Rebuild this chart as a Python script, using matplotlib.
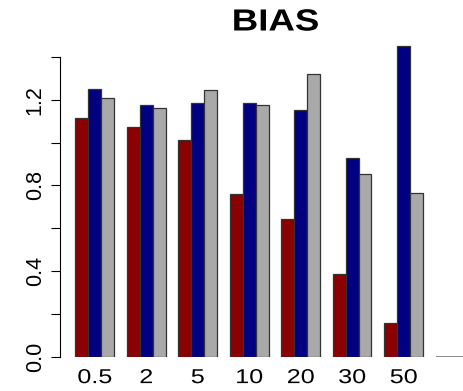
import matplotlib
matplotlib.use("Agg")
import matplotlib.pyplot as plt
import matplotlib.patheffects as pe
from matplotlib.transforms import Affine2D
import numpy as np

plt.rcParams['font.family'] = ['Liberation Sans', 'DejaVu Sans']

categories = ["0.5", "2", "5", "10", "20", "30", "50", ""]
series_red = [1.116, 1.071, 1.010, 0.759, 0.645, 0.389, 0.159, 0.0]
series_blue = [1.251, 1.175, 1.185, 1.185, 1.150, 0.926, 1.449, 0.0]
series_gray = [1.209, 1.163, 1.244, 1.175, 1.318, 0.852, 0.763, 0.0]
y_ticks = [0.0, 0.2, 0.4, 0.6, 0.8, 1.0, 1.2, 1.4]
y_labels = ["0.0", "", "0.4", "", "0.8", "", "1.2", ""]
title = "BIAS"

colors = ["#8B0000", "#000080", "#A9A9A9"]


class HStretch(pe.AbstractPathEffect):
    """Stretch text horizontally about its centre (reference output is wide)."""
    def __init__(self, sx):
        super().__init__()
        self.sx = sx

    def draw_path(self, renderer, gc, tpath, affine, rgbFace=None):
        bb = tpath.get_extents(affine)
        cx = 0.5 * (bb.x0 + bb.x1)
        aff = affine + Affine2D().translate(-cx, 0).scale(self.sx, 1).translate(cx, 0)
        renderer.draw_path(gc, tpath, aff, rgbFace)


W, H = 463, 391
fig = plt.figure(figsize=(W / 100, H / 100), dpi=100)

px_per_unit_x = 12.87
px_per_unit_y = 214.4
left_px = 59.5
zero_px = 357.0
ytop = 1.55
ax = fig.add_axes([left_px / W, (H - zero_px) / H, (W - left_px) / W, ytop * px_per_unit_y / H])
ax.set_xlim(-0.24, -0.24 + (W - left_px) / px_per_unit_x)
ax.set_ylim(0, ytop)

n = len(categories)
group_starts = 1 + 4 * np.arange(n)
series = [series_red, series_blue, series_gray]
for i, (vals, c) in enumerate(zip(series, colors)):
    for g in range(n):
        if vals[g] > 0:
            ax.bar(group_starts[g] + i, vals[g], width=1.0, align='edge', color=c,
                   edgecolor='#333333', linewidth=0.9)
        else:
            ax.bar(group_starts[g] + i, vals[g], width=1.0, align='edge', color=c,
                   edgecolor='#808080', linewidth=1.3)

ax.set_xticks(group_starts + 1.5)
ax.set_xticklabels(categories, fontsize=14.5)
ax.tick_params(axis='x', length=0, pad=8)
for t in ax.get_xticklabels():
    t.set_path_effects([HStretch(1.25)])

ax.set_yticks(y_ticks)
ax.set_yticklabels(y_labels, fontsize=15.5, rotation=90, va='center')
ax.tick_params(axis='y', length=6.2, width=0.8, pad=3.7)

for s in ['top', 'right', 'bottom']:
    ax.spines[s].set_visible(False)
ax.spines['left'].set_bounds(0, 1.4)
ax.spines['left'].set_linewidth(0.8)
ax.patch.set_visible(False)

t = fig.text(275.5 / W, 1 - 22.5 / H, title, fontsize=22, fontweight='bold', ha='center', va='center')
t.set_path_effects([HStretch(1.2)])

fig.savefig("out.png", dpi=100)
